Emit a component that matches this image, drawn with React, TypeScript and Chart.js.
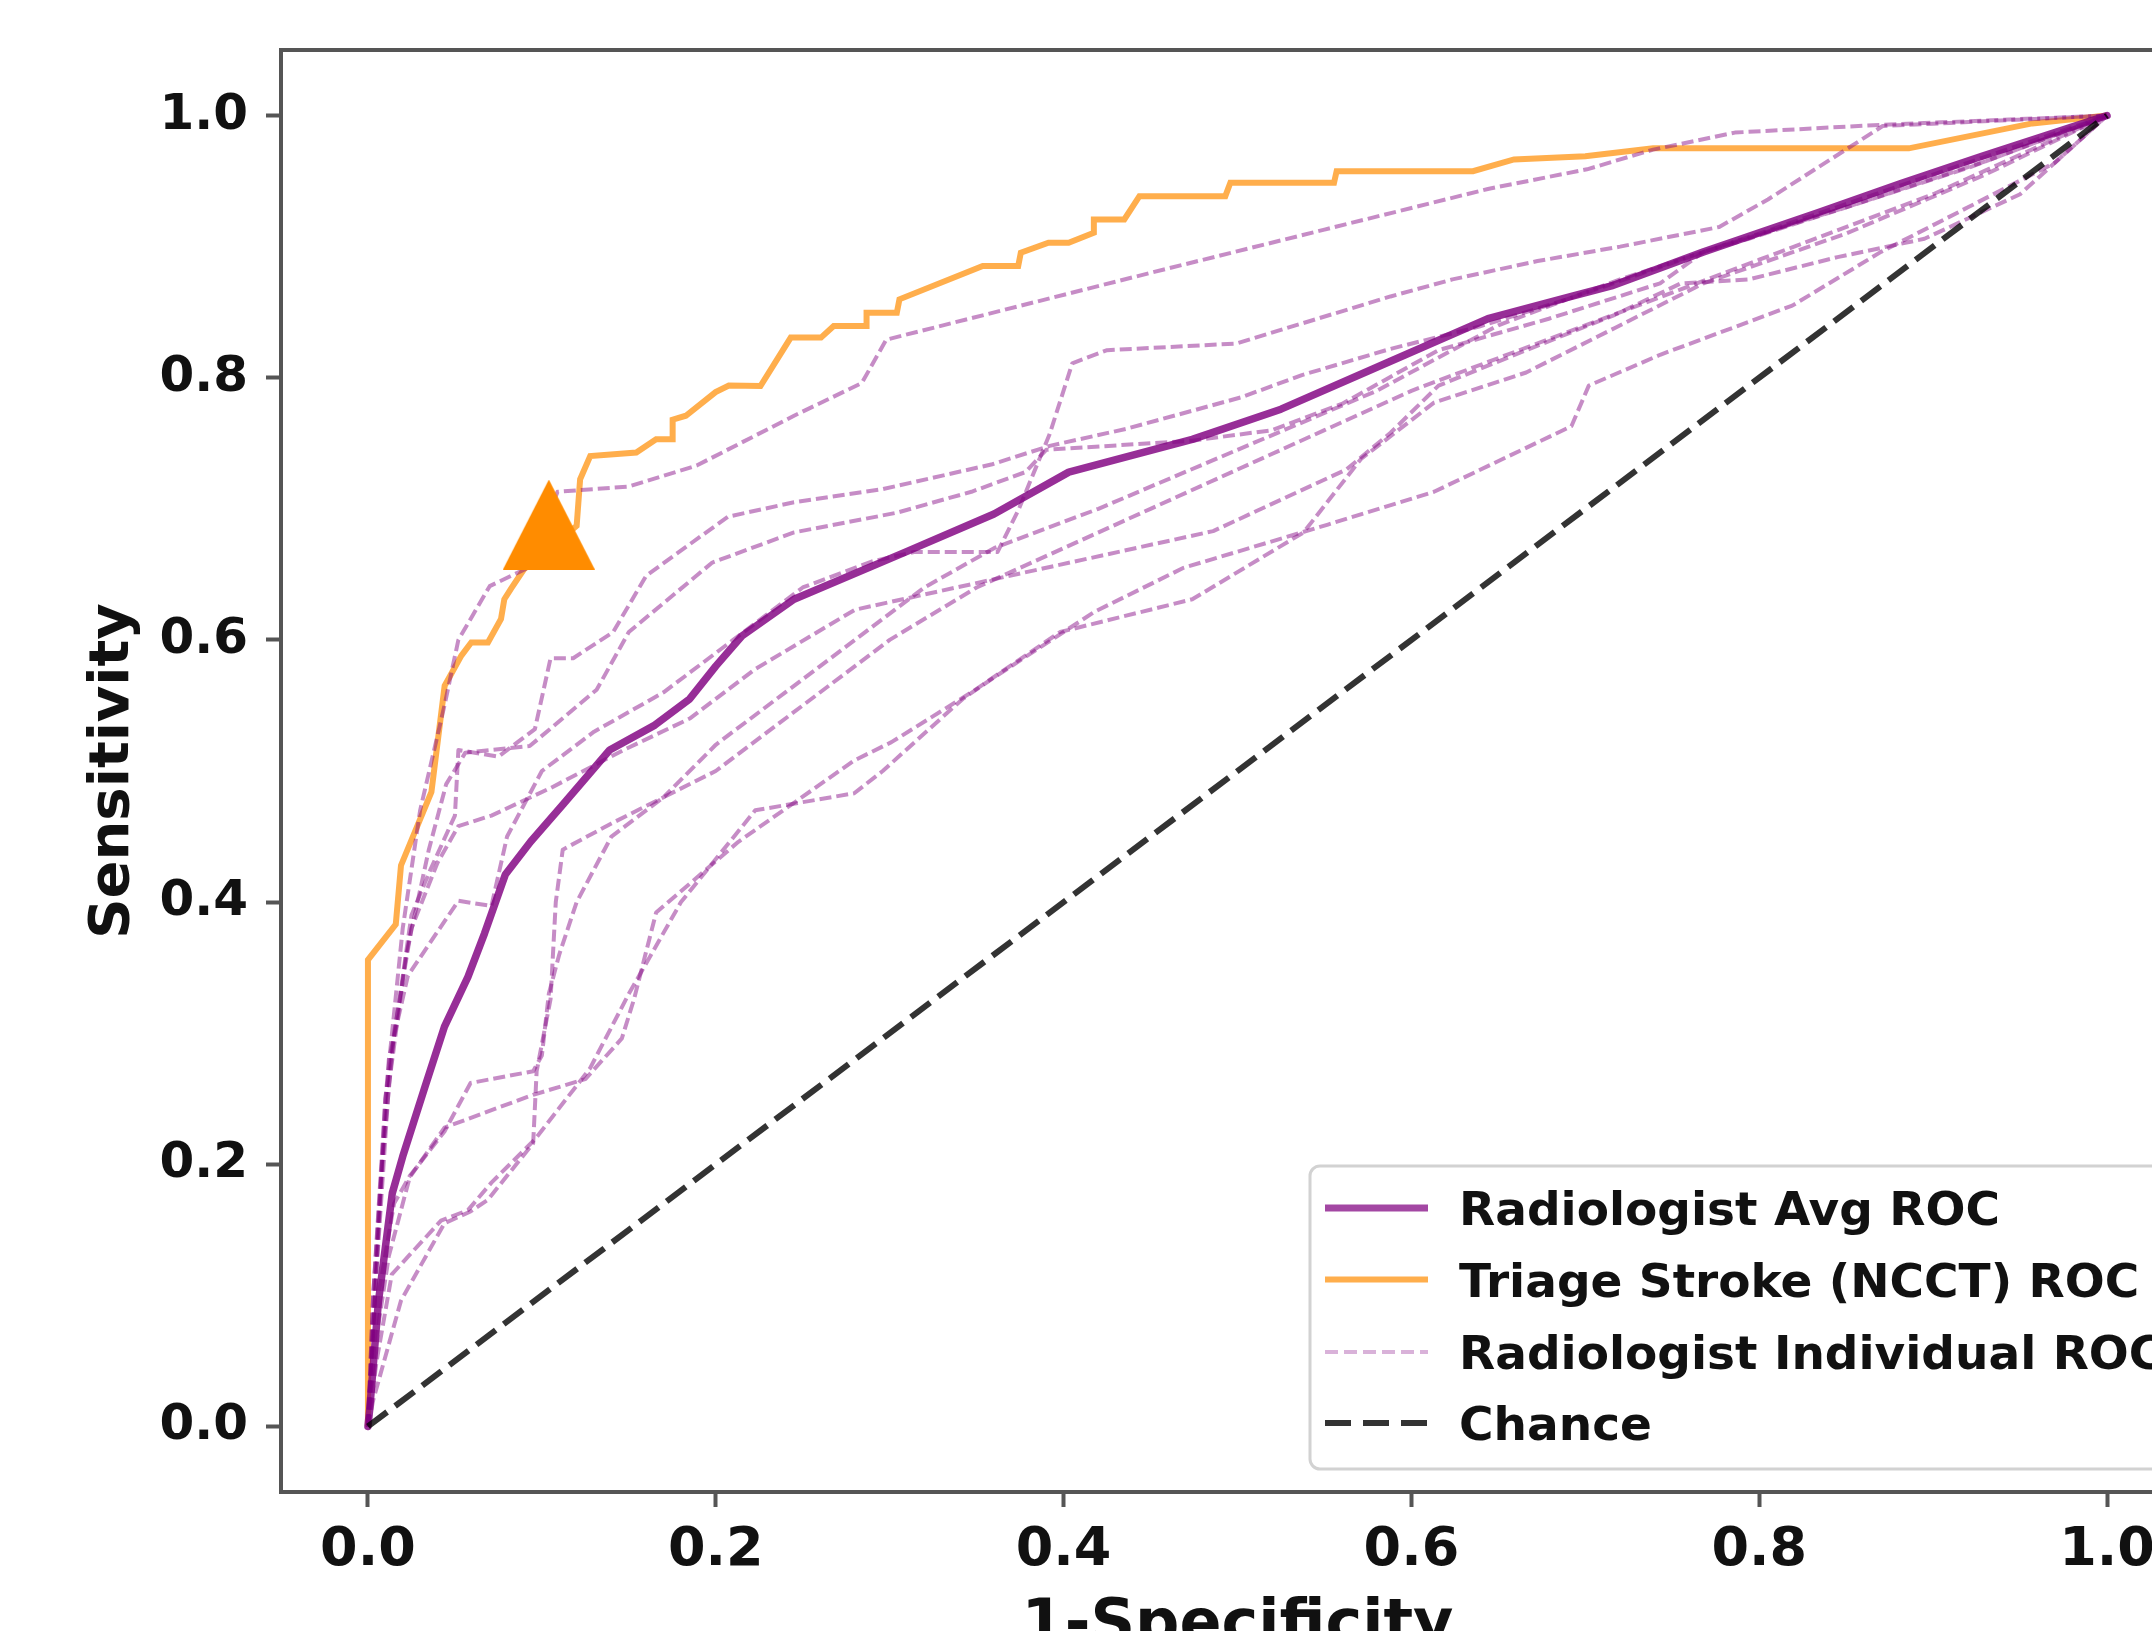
import React, { useEffect, useRef } from 'react';
import { Chart, registerables } from 'chart.js';

Chart.register(...registerables);

type Pt = [number, number];

// ---- axis ticks ----
const X_TICKS = [0, 0.2, 0.4, 0.6, 0.8, 1.0];
const Y_TICKS = [0, 0.2, 0.4, 0.6, 0.8, 1.0];

// ---- Triage Stroke (NCCT) ROC ----
const TRIAGE_ROC: Pt[] = [
  [0, 0], [0, 0.356], [0.016, 0.383], [0.019, 0.428], [0.0365, 0.484], [0.0441, 0.565],
  [0.0537, 0.588], [0.0594, 0.598], [0.069, 0.598], [0.0765, 0.616], [0.0784, 0.631],
  [0.0822, 0.639], [0.0898, 0.654], [0.105, 0.67], [0.12, 0.687], [0.122, 0.7226],
  [0.1278, 0.7403], [0.1543, 0.7429], [0.1657, 0.753], [0.1752, 0.753], [0.1752, 0.768],
  [0.1828, 0.771], [0.1999, 0.789], [0.2075, 0.794], [0.2257, 0.7937], [0.2431, 0.8306],
  [0.2605, 0.8306], [0.2678, 0.8395], [0.2867, 0.8395], [0.2867, 0.8496], [0.3041, 0.8496],
  [0.3056, 0.8598], [0.3535, 0.8852], [0.3739, 0.8852], [0.3754, 0.8954], [0.3913, 0.903],
  [0.4029, 0.903], [0.4174, 0.9106], [0.4174, 0.9207], [0.4349, 0.9207], [0.4436, 0.9385],
  [0.493, 0.9385], [0.4959, 0.9487], [0.5555, 0.9487], [0.557, 0.9576], [0.6354, 0.9576],
  [0.659, 0.9665], [0.7, 0.969], [0.739, 0.975], [0.886, 0.975], [0.957, 0.994], [1, 1],
];

// ---- Radiologist average ROC ----
const AVG_ROC: Pt[] = [
  [0, 0], [0.001, 0.013], [0.006, 0.095], [0.014, 0.178], [0.02, 0.206], [0.033, 0.26],
  [0.044, 0.305], [0.0575, 0.343], [0.067, 0.376], [0.079, 0.421], [0.0935, 0.446],
  [0.1125, 0.475], [0.139, 0.516], [0.165, 0.535], [0.185, 0.555], [0.2, 0.58],
  [0.215, 0.603], [0.245, 0.631], [0.309, 0.667], [0.36, 0.696], [0.403, 0.728],
  [0.474, 0.753], [0.525, 0.776], [0.587, 0.812], [0.644, 0.845], [0.692, 0.862],
  [0.715, 0.87], [0.768, 0.896], [0.834, 0.926], [0.881, 0.948], [0.928, 0.969], [1, 1],
];

// ---- Radiologist individual ROCs ----
const READER_1: Pt[] = [
  [0, 0], [0.003, 0.1], [0.01, 0.25], [0.02, 0.38], [0.03, 0.47], [0.044, 0.55], [0.052, 0.6],
  [0.07, 0.641], [0.092, 0.655], [0.109, 0.713], [0.15, 0.717], [0.189, 0.733], [0.245, 0.771],
  [0.284, 0.796], [0.298, 0.829], [0.45, 0.88], [0.55, 0.913], [0.644, 0.944], [0.701, 0.959],
  [0.739, 0.974], [0.786, 0.987], [0.871, 0.993], [1, 1],
];
const READER_2: Pt[] = [
  [0, 0], [0.004, 0.1], [0.01, 0.25], [0.025, 0.39], [0.036, 0.425], [0.05, 0.466], [0.052, 0.516],
  [0.075, 0.511], [0.096, 0.532], [0.105, 0.586], [0.118, 0.586], [0.141, 0.606], [0.16, 0.649],
  [0.207, 0.694], [0.245, 0.705], [0.296, 0.715], [0.359, 0.734], [0.392, 0.748], [0.436, 0.761],
  [0.502, 0.785], [0.537, 0.802], [0.588, 0.822], [0.639, 0.839], [0.69, 0.86], [0.777, 0.9],
  [0.85, 0.93], [0.93, 0.965], [1, 1],
];
const READER_3: Pt[] = [
  [0, 0], [0.005, 0.12], [0.012, 0.26], [0.022, 0.36], [0.035, 0.44], [0.045, 0.49], [0.056, 0.514],
  [0.093, 0.519], [0.1315, 0.562], [0.15, 0.606], [0.198, 0.659], [0.245, 0.682], [0.304, 0.697],
  [0.347, 0.713], [0.378, 0.728], [0.39, 0.745], [0.474, 0.752], [0.52, 0.76], [0.56, 0.78],
  [0.6156, 0.821], [0.679, 0.845], [0.743, 0.872], [0.768, 0.896], [0.794, 0.906], [0.85, 0.93],
  [0.92, 0.96], [1, 1],
];
const READER_4: Pt[] = [
  [0, 0], [0.006, 0.15], [0.012, 0.28], [0.023, 0.344], [0.052, 0.401], [0.071, 0.397], [0.08, 0.45],
  [0.1, 0.5], [0.13, 0.53], [0.17, 0.56], [0.21, 0.6], [0.25, 0.64], [0.29, 0.66], [0.314, 0.667],
  [0.362, 0.667], [0.374, 0.699], [0.392, 0.757], [0.405, 0.811], [0.425, 0.821], [0.499, 0.826],
  [0.588, 0.862], [0.6236, 0.875], [0.6725, 0.889], [0.72, 0.9], [0.777, 0.915], [0.805, 0.936],
  [0.871, 0.992], [1, 1],
];
const READER_5: Pt[] = [
  [0, 0], [0.003, 0.02], [0.019, 0.096], [0.044, 0.155], [0.059, 0.164], [0.069, 0.173],
  [0.095, 0.216], [0.097, 0.271], [0.105, 0.326], [0.108, 0.4], [0.112, 0.44], [0.14, 0.46],
  [0.17, 0.48], [0.2, 0.52], [0.24, 0.56], [0.28, 0.6], [0.32, 0.64], [0.36, 0.67], [0.42, 0.7],
  [0.5, 0.745], [0.58, 0.79], [0.65, 0.84], [0.72, 0.875], [0.8, 0.91], [0.9, 0.955], [1, 1],
];
const READER_6: Pt[] = [
  [0, 0], [0.006, 0.1], [0.015, 0.17], [0.024, 0.191], [0.044, 0.225], [0.059, 0.262], [0.095, 0.271],
  [0.1, 0.283], [0.104, 0.33], [0.11, 0.36], [0.12, 0.4], [0.14, 0.45], [0.17, 0.48], [0.2, 0.5],
  [0.25, 0.55], [0.3, 0.6], [0.35, 0.64], [0.4, 0.67], [0.45, 0.7], [0.5, 0.73], [0.55, 0.76],
  [0.6, 0.79], [0.7, 0.84], [0.8, 0.89], [0.9, 0.94], [1, 1],
];
const READER_7: Pt[] = [
  [0, 0], [0.003, 0.1], [0.008, 0.2], [0.015, 0.3], [0.025, 0.38], [0.04, 0.43], [0.052, 0.458],
  [0.071, 0.466], [0.105, 0.487], [0.147, 0.516], [0.185, 0.54], [0.223, 0.578], [0.28, 0.623],
  [0.359, 0.646], [0.486, 0.683], [0.5626, 0.73], [0.588, 0.758], [0.6156, 0.794], [0.666, 0.821],
  [0.717, 0.848], [0.755, 0.872], [0.794, 0.875], [0.845, 0.892], [0.895, 0.906], [0.95, 0.94], [1, 1],
];
const READER_8: Pt[] = [
  [0, 0], [0.004, 0.06], [0.012, 0.13], [0.024, 0.19], [0.044, 0.228], [0.095, 0.253], [0.125, 0.265],
  [0.146, 0.296], [0.153, 0.326], [0.1657, 0.392], [0.213, 0.446], [0.2796, 0.508], [0.301, 0.522],
  [0.347, 0.56], [0.398, 0.606], [0.474, 0.631], [0.538, 0.682], [0.571, 0.738], [0.613, 0.781],
  [0.666, 0.804], [0.717, 0.838], [0.768, 0.872], [0.85, 0.91], [0.93, 0.955], [1, 1],
];
const READER_9: Pt[] = [
  [0, 0], [0.005, 0.05], [0.0137, 0.116], [0.042, 0.157], [0.0575, 0.165], [0.071, 0.186],
  [0.096, 0.219], [0.1276, 0.273], [0.15, 0.33], [0.18, 0.4], [0.2227, 0.47], [0.2796, 0.483],
  [0.296, 0.5], [0.342, 0.555], [0.359, 0.5705], [0.418, 0.6216], [0.469, 0.655], [0.552, 0.688],
  [0.613, 0.713], [0.692, 0.763], [0.702, 0.794], [0.743, 0.8175], [0.819, 0.855], [0.87, 0.896],
  [0.92, 0.93], [0.97, 0.964], [1, 1],
];
const READERS: Pt[][] = [READER_1, READER_2, READER_3, READER_4, READER_5, READER_6, READER_7, READER_8, READER_9];

// ---- chance line and operating point ----
const CHANCE: Pt[] = [[0, 0], [1, 1]];
const OPERATING_POINT: Pt[] = [[0.104, 0.688]];

// ---- legend ----
const LEGEND_LABELS = ['Radiologist Avg ROC', 'Triage Stroke (NCCT) ROC', 'Radiologist Individual ROC', 'Chance'];

// ---- styles ----
const AVG_COLOR = 'rgba(128,0,128,0.82)';
const AVG_LEGEND_COLOR = 'rgba(128,0,128,0.72)';
const ORANGE_COLOR = 'rgba(255,140,0,0.7)';
const READER_COLOR = 'rgba(128,0,128,0.45)';
const READER_LEGEND_COLOR = 'rgba(128,0,128,0.3)';
const CHANCE_COLOR = 'rgba(0,0,0,0.8)';
const MARKER_COLOR = '#ff8c00';
const AXIS_COLOR = '#555555';
const TEXT_COLOR = '#111111';
const FONT = "'DejaVu Sans', 'Liberation Sans', sans-serif";

const CANVAS_W = 2240;
const CANVAS_H = 1680;

const toXY = (pts: Pt[]) => pts.map(([x, y]) => ({ x, y }));

function makeTriangle(): HTMLCanvasElement {
  const c = document.createElement('canvas');
  c.width = 92;
  c.height = 90;
  const g = c.getContext('2d')!;
  g.fillStyle = MARKER_COLOR;
  g.beginPath();
  g.moveTo(46, 0);
  g.lineTo(92, 90);
  g.lineTo(0, 90);
  g.closePath();
  g.fill();
  return c;
}

const framePlugin = {
  id: 'axesFrame',
  afterDatasetsDraw(chart: any) {
    const { ctx, chartArea: a } = chart;
    ctx.save();
    ctx.strokeStyle = AXIS_COLOR;
    ctx.lineWidth = 4;
    ctx.strokeRect(a.left, a.top, a.right - a.left, a.bottom - a.top);
    ctx.restore();
  },
};

const legendPlugin = {
  id: 'insideLegend',
  afterDraw(chart: any) {
    const { ctx, chartArea: a } = chart;
    const left = a.left + 1029;
    const top = a.top + 1116;
    const right = a.right - 14;
    const bottom = a.bottom - 23;
    ctx.save();
    ctx.beginPath();
    if ((ctx as any).roundRect) {
      (ctx as any).roundRect(left, top, right - left, bottom - top, 10);
    } else {
      ctx.rect(left, top, right - left, bottom - top);
    }
    ctx.fillStyle = 'rgba(255,255,255,0.8)';
    ctx.fill();
    ctx.strokeStyle = '#d2d2d2';
    ctx.lineWidth = 3;
    ctx.stroke();

    const rowY = [top + 42, top + 113.5, top + 186, top + 257];
    const styles = [
      { color: AVG_LEGEND_COLOR, width: 7, dash: [] as number[] },
      { color: ORANGE_COLOR, width: 6, dash: [] as number[] },
      { color: READER_LEGEND_COLOR, width: 4, dash: [13, 6] },
      { color: CHANCE_COLOR, width: 6, dash: [26, 12] },
    ];
    const x0 = left + 15;
    const x1 = left + 118;
    LEGEND_LABELS.forEach((label, i) => {
      const s = styles[i];
      ctx.beginPath();
      ctx.setLineDash(s.dash);
      ctx.lineCap = 'butt';
      ctx.strokeStyle = s.color;
      ctx.lineWidth = s.width;
      ctx.moveTo(x0, rowY[i]);
      ctx.lineTo(x1, rowY[i]);
      ctx.stroke();
      ctx.setLineDash([]);
      ctx.fillStyle = TEXT_COLOR;
      ctx.font = `bold 47px ${FONT}`;
      ctx.textAlign = 'left';
      ctx.textBaseline = 'alphabetic';
      ctx.fillText(label, left + 149, rowY[i] + 17);
    });
    ctx.restore();
  },
};

export default function App() {
  const canvasRef = useRef<HTMLCanvasElement | null>(null);

  useEffect(() => {
    const canvas = canvasRef.current;
    if (!canvas) return;
    const triangle = makeTriangle();

    const readerSets = READERS.map((pts, i) => ({
      label: `Radiologist ${i + 1}`,
      data: toXY(pts),
      showLine: true,
      borderColor: READER_COLOR,
      borderWidth: 4,
      borderDash: [12, 5],
      borderCapStyle: 'butt',
      borderJoinStyle: 'round',
      pointRadius: 0,
      tension: 0,
      fill: false,
      order: 3,
    }));

    const chart = new Chart(canvas, {
      type: 'scatter',
      data: {
        datasets: [
          {
            label: 'Operating point',
            data: toXY(OPERATING_POINT),
            pointStyle: triangle as any,
            pointRadius: 45,
            showLine: false,
            order: 0,
          } as any,
          {
            label: 'Chance',
            data: toXY(CHANCE),
            showLine: true,
            borderColor: CHANCE_COLOR,
            borderWidth: 6,
            borderDash: [24, 10],
            borderCapStyle: 'butt',
            pointRadius: 0,
            order: 1,
          },
          {
            label: 'Radiologist Avg ROC',
            data: toXY(AVG_ROC),
            showLine: true,
            borderColor: AVG_COLOR,
            borderWidth: 7.5,
            borderJoinStyle: 'round',
            borderCapStyle: 'round',
            pointRadius: 0,
            tension: 0,
            order: 2,
          },
          ...readerSets,
          {
            label: 'Triage Stroke (NCCT) ROC',
            data: toXY(TRIAGE_ROC),
            showLine: true,
            borderColor: ORANGE_COLOR,
            borderWidth: 6,
            borderJoinStyle: 'miter',
            borderCapStyle: 'butt',
            pointRadius: 0,
            tension: 0,
            order: 4,
          },
        ] as any,
      },
      options: {
        animation: false,
        responsive: false,
        devicePixelRatio: 1,
        events: [],
        layout: { padding: { top: 50, right: CANVAS_W - 2213, bottom: 0, left: 0 } },
        plugins: { legend: { display: false }, tooltip: { enabled: false } },
        scales: {
          x: {
            type: 'linear',
            min: -0.05,
            max: 1.05,
            afterBuildTicks: (scale: any) => {
              scale.ticks = X_TICKS.map((v) => ({ value: v }));
            },
            afterFit: (scale: any) => {
              scale.height = CANVAS_H - 1492;
            },
            grid: {
              drawOnChartArea: false,
              drawTicks: true,
              tickLength: 15,
              tickWidth: 4,
              tickColor: AXIS_COLOR,
            },
            border: { display: false },
            ticks: {
              autoSkip: false,
              maxRotation: 0,
              minRotation: 0,
              padding: 12,
              color: TEXT_COLOR,
              font: { family: FONT, size: 54, weight: 'bold' },
              callback: (v: any) => Number(v).toFixed(1),
            },
            title: {
              display: true,
              text: '1-Specificity',
              color: TEXT_COLOR,
              font: { family: FONT, size: 62, weight: 'bold' },
              padding: { top: 0, bottom: 16 },
            },
          },
          y: {
            type: 'linear',
            min: -0.05,
            max: 1.05,
            afterBuildTicks: (scale: any) => {
              scale.ticks = Y_TICKS.map((v) => ({ value: v }));
            },
            afterFit: (scale: any) => {
              scale.width = 281;
            },
            grid: {
              drawOnChartArea: false,
              drawTicks: true,
              tickLength: 15,
              tickWidth: 4,
              tickColor: AXIS_COLOR,
            },
            border: { display: false },
            ticks: {
              padding: 18,
              color: TEXT_COLOR,
              font: { family: FONT, size: 50, weight: 'bold' },
              callback: (v: any) => Number(v).toFixed(1),
            },
            title: {
              display: true,
              text: 'Sensitivity',
              color: TEXT_COLOR,
              font: { family: FONT, size: 56, weight: 'bold' },
              padding: { top: 80, bottom: 0 },
            },
          },
        },
      } as any,
      plugins: [framePlugin, legendPlugin],
    });

    return () => chart.destroy();
  }, []);

  return (
    <div
      style={{
        position: 'fixed',
        left: 0,
        top: 0,
        width: 2152,
        height: 1631,
        overflow: 'hidden',
        background: '#ffffff',
      }}
    >
      <canvas ref={canvasRef} width={CANVAS_W} height={CANVAS_H} style={{ display: 'block' }} />
    </div>
  );
}
